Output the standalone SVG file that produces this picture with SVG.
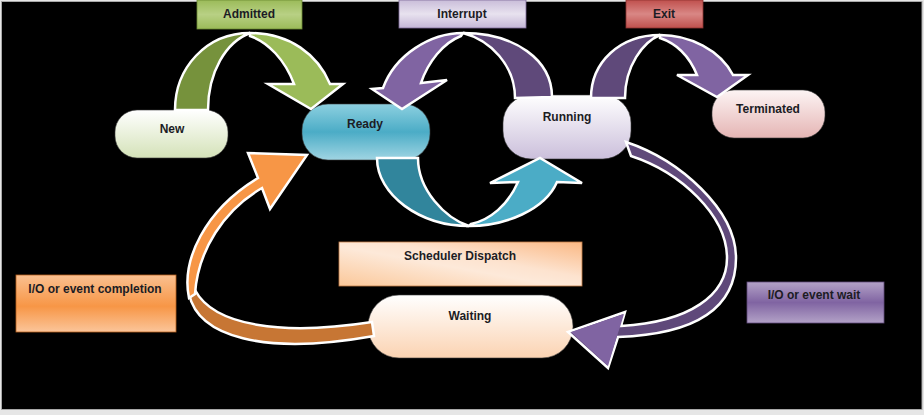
<svg xmlns="http://www.w3.org/2000/svg" width="924" height="415" viewBox="0 0 924 415">
<defs>
<style>
text{font-family:"Liberation Sans",Arial,sans-serif;font-weight:bold;font-size:12px;fill:#1c1c24;text-anchor:middle}
.arr{stroke:#ffffff;stroke-width:2.5;stroke-linejoin:miter}
.node{stroke:#3a3a3a;stroke-width:0.6}
</style>
<linearGradient id="gNew" x1="0" y1="0" x2="0" y2="1"><stop offset="0" stop-color="#ffffff"/><stop offset="1" stop-color="#d4e2b8"/></linearGradient>
<linearGradient id="gReady" x1="0" y1="0" x2="0" y2="1"><stop offset="0" stop-color="#8dd0e0"/><stop offset="0.5" stop-color="#4bacc6"/><stop offset="1" stop-color="#a0d5e3"/></linearGradient>
<linearGradient id="gRun" x1="0" y1="0" x2="0" y2="1"><stop offset="0" stop-color="#ffffff"/><stop offset="1" stop-color="#cbbfdb"/></linearGradient>
<linearGradient id="gTerm" x1="0" y1="0" x2="0" y2="1"><stop offset="0" stop-color="#fdf4f4"/><stop offset="1" stop-color="#e5b5b4"/></linearGradient>
<linearGradient id="gWait" x1="0" y1="0" x2="0" y2="1"><stop offset="0" stop-color="#ffffff"/><stop offset="1" stop-color="#fbd3b2"/></linearGradient>
<linearGradient id="gAdm" x1="0" y1="0" x2="0" y2="1"><stop offset="0" stop-color="#9bbb59"/><stop offset="0.5" stop-color="#b8d084"/><stop offset="1" stop-color="#9bbb59"/></linearGradient>
<linearGradient id="gInt" x1="0" y1="0" x2="0" y2="1"><stop offset="0" stop-color="#c9bdd9"/><stop offset="0.5" stop-color="#e8e2ef"/><stop offset="1" stop-color="#c4b6d6"/></linearGradient>
<linearGradient id="gExit" x1="0" y1="0" x2="0" y2="1"><stop offset="0" stop-color="#c0504d"/><stop offset="0.5" stop-color="#d98785"/><stop offset="1" stop-color="#c0504d"/></linearGradient>
<linearGradient id="gSch" x1="0" y1="1" x2="1" y2="0"><stop offset="0" stop-color="#fbc89a"/><stop offset="0.45" stop-color="#fde9d9"/><stop offset="0.6" stop-color="#fde3cf"/><stop offset="1" stop-color="#fab884"/></linearGradient>
<linearGradient id="gComp" x1="0" y1="0" x2="0" y2="1"><stop offset="0" stop-color="#fac090"/><stop offset="0.55" stop-color="#f79646"/><stop offset="1" stop-color="#fbc59a"/></linearGradient>
<linearGradient id="gWt" x1="0" y1="0" x2="0" y2="1"><stop offset="0" stop-color="#b3a2c7"/><stop offset="0.5" stop-color="#8064a2"/><stop offset="1" stop-color="#b3a2c7"/></linearGradient>
</defs>
<rect x="0" y="0" width="924" height="415" fill="#e6e6e6"/>
<rect x="1.5" y="1.5" width="920.5" height="408" fill="#000000" stroke="#a8a8a8" stroke-width="1"/>

<g id="node-new"><rect class="node" x="115" y="110" width="113" height="48" rx="22" fill="url(#gNew)"/><text x="172" y="133">New</text></g>
<g id="node-ready"><rect class="node" x="302" y="104" width="128" height="56" rx="26" fill="url(#gReady)"/><text x="365" y="128">Ready</text></g>
<g id="node-running"><rect class="node" x="503" y="95" width="128" height="64" rx="28" fill="url(#gRun)"/><text x="567" y="121">Running</text></g>
<g id="node-terminated"><rect class="node" x="712" y="90" width="113" height="48" rx="22" fill="url(#gTerm)"/><text x="768" y="113">Terminated</text></g>
<g id="node-waiting"><rect class="node" x="368" y="295" width="205" height="63" rx="31" fill="url(#gWait)"/><text x="470" y="320">Waiting</text></g>

<g id="connectors">
<g id="edge-admitted">
<path class="arr" fill="#76923c" d="M175,110 C175,68 206,33 250,33 C226,42 208,72 208,110 Z"/>
<path class="arr" fill="#9bbb59" d="M250,33 C290,33 318,55 330,84 L343,84 L311,109 L268,84 L294,84 C285,60 268,42 250,36 Z"/>
<rect x="197" y="0" width="105" height="29" fill="url(#gAdm)" stroke="#6b8a33" stroke-width="0.8"/>
<text x="249" y="18">Admitted</text>
</g>
<g id="edge-interrupt">
<path class="arr" fill="#5f497a" d="M552,97 C552,60 515,33 463,33 C490,40 515,65 515,98 Z"/>
<path class="arr" fill="#8064a2" d="M463,33 C430,33 395,55 383,88 L372,89 L402,109 L447,80 L421,83 C428,62 443,43 461,36 Z"/>
<rect x="399" y="0" width="127" height="28" fill="url(#gInt)" stroke="#7e6a99" stroke-width="0.8"/>
<text x="462" y="18">Interrupt</text>
</g>
<g id="edge-exit">
<path class="arr" fill="#5f497a" d="M591,98 C591,62 620,35 660,35 C643,42 625,66 625,98 Z"/>
<path class="arr" fill="#8064a2" d="M660,35 C690,35 720,50 733,75 L748,75 L717,97 L677,75 L697,75 C690,58 678,44 660,38 Z"/>
<rect x="626" y="0" width="77" height="28" fill="url(#gExit)" stroke="#8c3331" stroke-width="0.8"/>
<text x="664" y="18">Exit</text>
</g>
<g id="edge-dispatch">
<path class="arr" fill="#31859c" d="M377,158 C377,195 420,226 469,226 C445,218 418,190 418,158 Z"/>
<path class="arr" fill="#4bacc6" d="M469,226 C505,226 545,210 557,182 L582,183 L540,158 L490,183 L518,182 C508,205 490,220 471,224 Z"/>
<rect x="339" y="242" width="243" height="44" fill="url(#gSch)" stroke="#c07a45" stroke-width="0.8"/>
<text x="460" y="260">Scheduler Dispatch</text>
</g>
<g id="edge-completion">
<path class="arr" fill="#c77634" d="M189,294 C198,336 262,356 374,336 L372,322 C282,336 214,326 195,290 Z"/>
<path class="arr" fill="#f79646" d="M189,298 C181,260 205,210 258,178 L248,153 L307,155 L270,209 L262,188 C224,210 198,250 195,294 Z"/>
<rect x="16" y="275" width="160" height="57" fill="url(#gComp)" stroke="#b65f1c" stroke-width="0.8"/>
<text x="95" y="293">I/O or event completion</text>
</g>
<g id="edge-wait">
<path class="arr" fill="#5f497a" d="M626,142 C680,160 736,210 736,258 C736,305 700,334 618,337 L608,368 L568,332 L625,312 L621,326 C690,322 727,295 727,258 C727,215 680,172 631,156 Z"/>
<path fill="#8064a2" d="M617,336 L608,366 L571,332 L624,314 L620,327 Z"/>
<rect x="747" y="282" width="137" height="41" fill="url(#gWt)" stroke="#5f497a" stroke-width="0.8"/>
<text x="814" y="299">I/O or event wait</text>
</g>
</g>
</svg>
